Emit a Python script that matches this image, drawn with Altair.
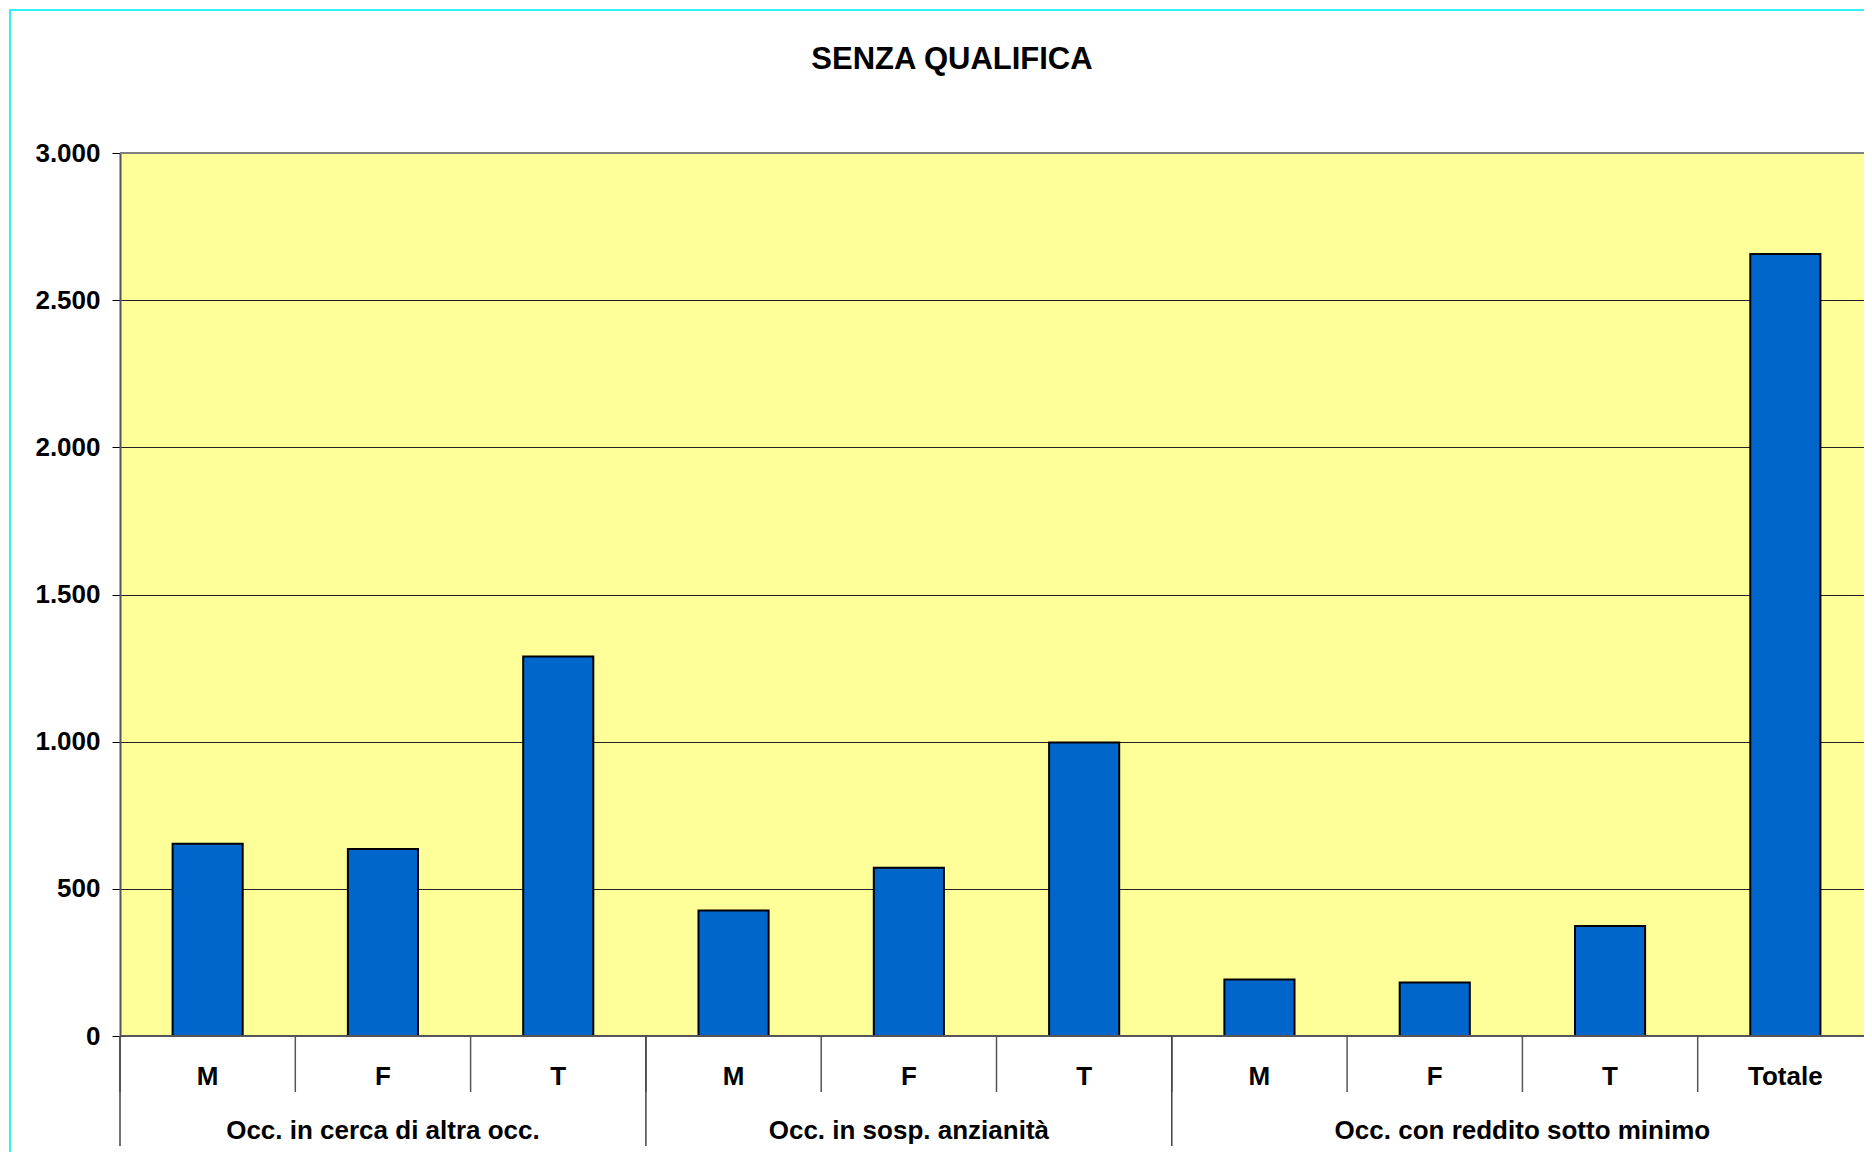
import altair as alt
import pandas as pd

title_text = "SENZA QUALIFICA"
groups = ["Occ. in cerca di altra occ.", "Occ. in sosp. anzianità", "Occ. con reddito sotto minimo"]
group_sizes = [3, 3, 4]
cat_labels = ["M", "F", "T", "M", "F", "T", "M", "F", "T", "Totale"]
values = [653, 635, 1289, 426, 572, 997, 192, 182, 374, 2657]
y_ticks = [0, 500, 1000, 1500, 2000, 2500, 3000]

W, H = 1744, 883
XR = 1753  # x range of the category axis (reference plot runs past the page edge)
FONT = "Liberation Sans"
N = len(cat_labels)

cat_group = []
for g, n in zip(groups, group_sizes):
    cat_group += [g] * n
bars_df = pd.DataFrame({"idx": list(range(N)), "label": cat_labels,
                        "group": cat_group, "value": values})

starts = []
s = 0
for n in group_sizes:
    starts.append(s)
    s += n
groups_df = pd.DataFrame({"group": groups, "start": starts,
                          "end": [a + n for a, n in zip(starts, group_sizes)]})

qscale = alt.Scale(domain=[0, N], range=[0, XR], nice=False, zero=False)

bars = alt.Chart(bars_df).mark_bar(fill="#0066CC", stroke="black", strokeWidth=2).encode(
    x=alt.X("idx:O", scale=alt.Scale(paddingInner=0.6, paddingOuter=0.3, range=[0, XR]), axis=None),
    y=alt.Y("value:Q", scale=alt.Scale(domain=[0, 3000], nice=False),
            axis=alt.Axis(values=y_ticks, title=None,
                          labelExpr="replace(format(datum.value, ','), ',', '.')",
                          labelFont=FONT, labelFontSize=26, labelFontWeight="bold",
                          labelColor="black", labelPadding=12,
                          tickSize=8, tickColor="black", tickWidth=1,
                          domainColor="#555555", domainWidth=2,
                          grid=True, gridColor="#222222", gridWidth=1)),
)

frame_df = pd.DataFrame({"a": [0]})
top_line = alt.Chart(frame_df).mark_rule(color="#808080", strokeWidth=2).encode(
    x=alt.value(0), x2=alt.value(W), y=alt.value(0),
)
bottom_line = alt.Chart(frame_df).mark_rule(color="#555555", strokeWidth=2).encode(
    x=alt.value(0), x2=alt.value(W), y=alt.value(H),
)

short_rules = alt.Chart(bars_df).mark_rule(color="#555555", strokeWidth=1.5).encode(
    x=alt.X("idx:Q", scale=qscale, axis=None),
    y=alt.value(H), y2=alt.value(H + 56),
)

long_rules = alt.Chart(groups_df).mark_rule(color="#444444", strokeWidth=1.5).encode(
    x=alt.X("start:Q", scale=qscale, axis=None),
    y=alt.value(H), y2=alt.value(H + 110),
)

cat_text = alt.Chart(bars_df).transform_calculate(mid="datum.idx + 0.5").mark_text(
    font=FONT, fontSize=26, fontWeight="bold", color="black", baseline="middle", align="center"
).encode(
    x=alt.X("mid:Q", scale=qscale, axis=None),
    y=alt.value(H + 41),
    text="label:N",
)

group_text = alt.Chart(groups_df).transform_calculate(mid="(datum.start + datum.end) / 2").mark_text(
    font=FONT, fontSize=26, fontWeight="bold", color="black", baseline="middle", align="center"
).encode(
    x=alt.X("mid:Q", scale=qscale, axis=None),
    y=alt.value(H + 95),
    text="group:N",
)

title = alt.Chart(pd.DataFrame({"t": [title_text]})).mark_text(
    font=FONT, fontSize=31, fontWeight="bold", color="black", baseline="middle", align="center"
).encode(
    x=alt.value(832), y=alt.value(-93), text="t:N",
)

border = alt.Chart(frame_df).mark_rect(
    fillOpacity=0, stroke="#33EEF5", strokeWidth=2
).encode(
    x=alt.value(-110), x2=alt.value(W + 100),
    y=alt.value(-143), y2=alt.value(H + 200),
)

chart = alt.layer(bars, top_line, bottom_line, short_rules, long_rules,
                  cat_text, group_text, title, border).resolve_scale(
    x="independent"
).properties(
    width=W, height=H,
    padding={"left": 112, "top": 145, "right": 0, "bottom": 116},
    autosize=alt.AutoSizeParams(type="none"),
    background="white",
).configure_view(
    fill="#FFFF99", strokeWidth=0,
)

chart.save("out.html", embed_options={"renderer": "svg", "actions": False})
